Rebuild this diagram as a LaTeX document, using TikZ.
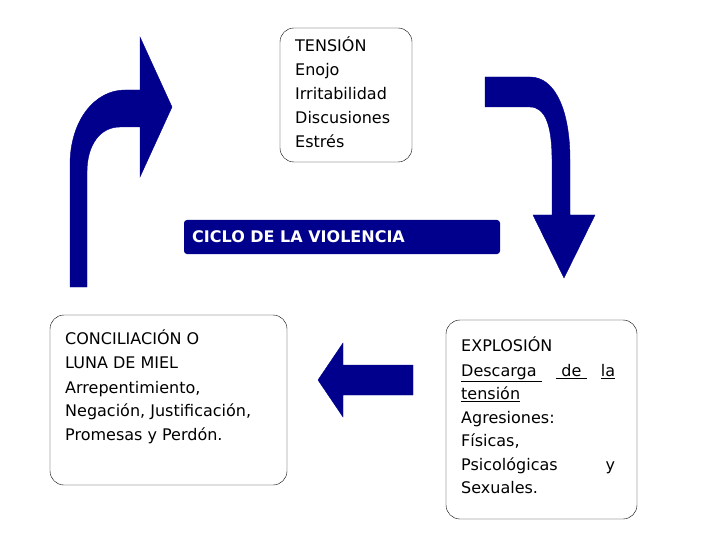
\documentclass[tikz,border=0pt]{standalone}
\usepackage{fontspec}
\setmainfont{DejaVu Sans}
\definecolor{navy}{RGB}{0,0,140}
\begin{document}
\begin{tikzpicture}
				[x=1pt, y=-1pt,
				box/.style = {draw, rounded corners=14pt, thin},
				txt/.style = {anchor=north west, inner sep=0pt, align=left,
				font=\fontsize{16}{24}\selectfont},
				arrow/.style = {fill=navy, draw=navy}]
				\useasboundingbox (0,0) rectangle (720,540);
				% boxes
				\draw[box] (280,28) rectangle (412,162);
				\draw[box] (50,315) rectangle (287,485);
				\draw[box] (446,320) rectangle (637,519);
				\fill[navy, rounded corners=3pt] (184,220) rectangle (500,254);
				\node[txt, font=\fontsize{16}{24}\selectfont\bfseries, text=white, anchor=west] (ciclo) at (192,237) {CICLO DE LA VIOLENCIA};
				\node[txt] (tension) at (295,36) {TENSIÓN\\Enojo\\Irritabilidad\\Discusiones\\Estrés};
				\node[txt] (concilia) at (65,329) {CONCILIACIÓN O\\LUNA DE MIEL};
				\node[txt, font=\fontsize{16}{23.5}\selectfont] (arrep) at (65,381) {Arrepentimiento,\\Negación, Justificación,\\Promesas y Perdón.};
				\node[txt] (explosion) at (461,336) {EXPLOSIÓN};
				\node[txt, text width=154pt, font=\fontsize{16}{23.5}\selectfont] (descarga) at (461,364)
					{\underline{Descarga\ }\hfill\underline{\ de\ }\hfill\underline{la}\\ \underline{tensión}\\Agresiones:\\Físicas,\\Psicológicas\hfill y\\Sexuales.};
				% arrows
				\filldraw[arrow] (70,287) -- (70,165) .. controls (70,120) and (95,90) .. (125,90)
					-- (140,90) -- (140,37) -- (172,107) -- (140,177) -- (140,127) -- (120,127)
					.. controls (100,127) and (87,145) .. (87,172) -- (87,287) -- cycle;
				\filldraw[arrow] (485,77) -- (530,77) .. controls (555,77) and (570,110) .. (570,160)
					-- (570,215) -- (595,215) -- (564,278) -- (533,215) -- (552,215) -- (552,160)
					.. controls (552,125) and (545,107) .. (530,107) -- (485,107) -- cycle;
				\filldraw[arrow] (413,365) -- (343,365) -- (343,343) -- (318,380) -- (343,417)
					-- (343,395) -- (413,395) -- cycle;
			\end{tikzpicture}
\end{document}
